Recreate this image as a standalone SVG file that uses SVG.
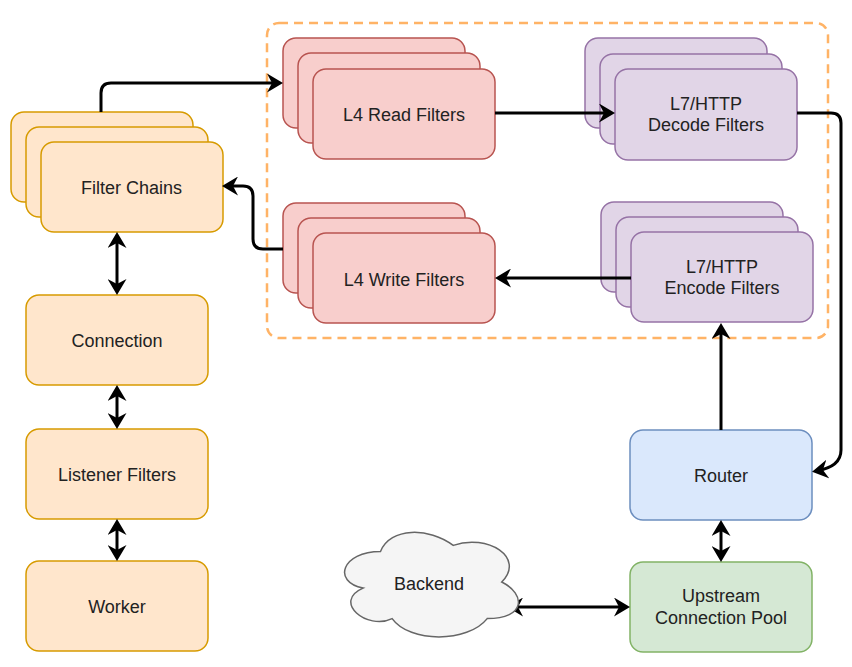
<svg xmlns="http://www.w3.org/2000/svg" width="852" height="667" viewBox="0 0 852 667">
<style>
text{font-family:"Liberation Sans",Arial,Helvetica,sans-serif;font-size:18px;fill:#222;text-anchor:middle}
rect{stroke-width:1.5}
.or{fill:#ffe6cc;stroke:#d79b00}
.rd{fill:#f8cecc;stroke:#b85450}
.pu{fill:#e1d5e7;stroke:#9673a6}
.bl{fill:#dae8fc;stroke:#6c8ebf}
.gr{fill:#d5e8d4;stroke:#82b366}
.cl{fill:#f5f5f5;stroke:#666666;stroke-width:1.5}
.grp{fill:none;stroke:#ffb366;stroke-width:2.5;stroke-dasharray:9 6}
.e{fill:none;stroke:#000;stroke-width:3;marker-end:url(#ah)}
.d{fill:none;stroke:#000;stroke-width:3;marker-start:url(#ah);marker-end:url(#ah)}
</style>
<defs>
<marker id="ah" viewBox="0 0 16 19" refX="12" refY="9.5" markerWidth="16" markerHeight="19" markerUnits="userSpaceOnUse" orient="auto-start-reverse">
<path d="M0,0 L16,9.5 L0,19 L5,9.5 Z" fill="#000"/>
</marker>
</defs>
<rect width="852" height="667" fill="#fff"/>
<g id="filter-group">
<rect class="grp" x="267" y="23" width="561" height="315" rx="12"/>
</g>
<g id="filter-chains">
<rect class="or" x="11" y="112" width="182" height="90" rx="13"/>
<rect class="or" x="26" y="127" width="182" height="90" rx="13"/>
<rect class="or" x="41" y="142" width="182" height="90" rx="13"/>
<text x="131.5" y="193.5">Filter Chains</text>
</g>
<g id="connection">
<rect class="or" x="26" y="295" width="182" height="90" rx="13"/>
<text x="117" y="346.5">Connection</text>
</g>
<g id="listener-filters">
<rect class="or" x="26" y="429" width="182" height="90" rx="13"/>
<text x="117" y="480.5">Listener Filters</text>
</g>
<g id="worker">
<rect class="or" x="26" y="561" width="182" height="90" rx="13"/>
<text x="117" y="612.5">Worker</text>
</g>
<g id="l4-read">
<rect class="rd" x="283" y="38" width="182" height="90" rx="13"/>
<rect class="rd" x="298" y="53" width="182" height="90" rx="13"/>
<rect class="rd" x="313" y="69" width="182" height="90" rx="13"/>
<text x="404" y="120.5">L4 Read Filters</text>
</g>
<g id="l7-decode">
<rect class="pu" x="585" y="38" width="182" height="90" rx="13"/>
<rect class="pu" x="600" y="54" width="182" height="90" rx="13"/>
<rect class="pu" x="615" y="69" width="182" height="91" rx="13"/>
<text x="706" y="109.5">L7/HTTP</text>
<text x="706" y="131">Decode Filters</text>
</g>
<g id="l4-write">
<rect class="rd" x="283" y="203" width="182" height="90" rx="13"/>
<rect class="rd" x="298" y="218" width="182" height="90" rx="13"/>
<rect class="rd" x="313" y="233" width="182" height="90" rx="13"/>
<text x="404" y="285.5">L4 Write Filters</text>
</g>
<g id="l7-encode">
<rect class="pu" x="601" y="202" width="182" height="90" rx="13"/>
<rect class="pu" x="616" y="217" width="182" height="90" rx="13"/>
<rect class="pu" x="631" y="232" width="182" height="90" rx="13"/>
<text x="722" y="272.5">L7/HTTP</text>
<text x="722" y="294">Encode Filters</text>
</g>
<g id="router">
<rect class="bl" x="630" y="430" width="182" height="90" rx="13"/>
<text x="721" y="481.5">Router</text>
</g>
<g id="upstream-pool">
<rect class="gr" x="630" y="562" width="182" height="90" rx="13"/>
<text x="721" y="602">Upstream</text>
<text x="721" y="623.5">Connection Pool</text>
</g>
<g id="connectors">
<path class="e" d="M101,112 V93 Q101,83 111,83 H279"/>
<path class="e" d="M495,113 H611"/>
<path class="e" d="M797,113 H831 Q841,113 841,123 V450 Q841,467 816,471"/>
<path class="e" d="M721,430 V327"/>
<path class="e" d="M631,278 H499"/>
<path class="e" d="M283,249 H263 Q253,249 253,239 V196 Q253,186 243,186 H226"/>
<path class="d" d="M117,236 V291"/>
<path class="d" d="M117,389 V425"/>
<path class="d" d="M117,523 V557"/>
<path class="d" d="M721,524 V558"/>
<path class="d" d="M511,607 H626"/>
</g>
<g id="backend">
<path class="cl" d="M380.5,551.5 C341.7,551.5 332,582 363.04,588.1 C332,601.52 366.92,630.8 392.14,618.6 C409.6,643 467.8,643 487.2,618.6 C526,618.6 526,594.2 501.75,582 C526,557.6 487.2,533.2 453.25,545.4 C429,527.1 390.2,527.1 380.5,551.5 Z"/>
<text x="429" y="589.5">Backend</text>
</g>
</svg>
